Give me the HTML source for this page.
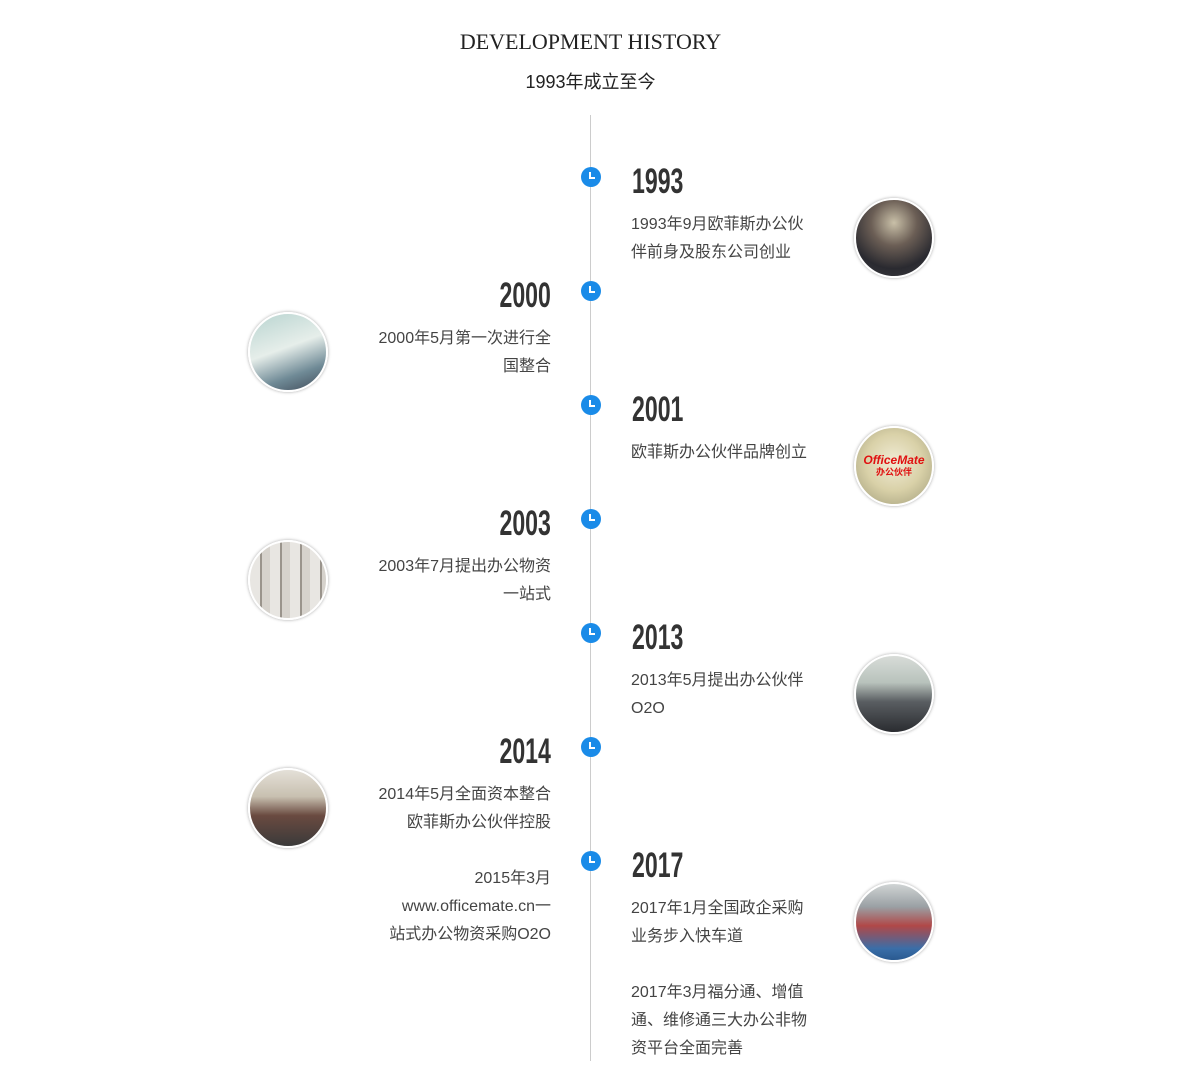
<!DOCTYPE html>
<html><head><meta charset="utf-8"><style>
html,body{margin:0;padding:0;background:#fff;}
body{width:1181px;height:1090px;position:relative;overflow:hidden;font-family:"Liberation Sans","Noto Sans CJK SC",sans-serif;color:#333;}
.abs{position:absolute;}
.title{left:0;width:1181px;top:29px;text-align:center;font-family:"Liberation Serif",serif;font-size:22px;letter-spacing:0;color:#222;}
.sub{left:0;width:1181px;top:68px;text-align:center;font-size:18px;color:#222;}
.line{left:590px;top:115px;width:1px;height:946px;background:#ccc;}
.dot{width:20px;height:20px;border-radius:50%;background:#1a8be8;left:581px;}
.dot:before{content:"";position:absolute;left:8px;top:5px;width:2px;height:7px;background:#fff;}
.dot:after{content:"";position:absolute;left:8px;top:10px;width:6px;height:2px;background:#fff;}
.year{font-family:"Liberation Sans Narrow","Liberation Sans",sans-serif;font-weight:bold;font-size:35px;line-height:36px;color:#333;transform:scaleX(0.66);}
.yr{left:632px;transform-origin:left center;}
.yl{right:630px;transform-origin:right center;text-align:right;}
.txt{font-size:16px;line-height:28px;color:#444;white-space:nowrap;}
.tr{left:631px;}
.tl{right:630px;text-align:right;}
.pic{width:76px;height:76px;border-radius:50%;border:2px solid #fff;box-shadow:0 0 3px rgba(0,0,0,.35);overflow:hidden;}
.pr{left:854px;}
.pl{left:248px;}
</style></head><body>
<div class="abs title">DEVELOPMENT HISTORY</div>
<div class="abs sub">1993年成立至今</div>
<div class="abs line"></div>

<div class="abs dot" style="top:167px"></div>
<div class="abs year yr" style="top:164px">1993</div>
<div class="abs txt tr" style="top:211px">1993年9月欧菲斯办公伙<br>伴前身及股东公司创业</div>
<div class="abs pic pr" style="top:198px;background:radial-gradient(circle at 50% 30%,#c9c0a8 0,#6b5e55 35%,#2a2a30 70%,#3a3a40 100%)"></div>

<div class="abs dot" style="top:281px"></div>
<div class="abs year yl" style="top:278px">2000</div>
<div class="abs txt tl" style="top:325px">2000年5月第一次进行全<br>国整合</div>
<div class="abs pic pl" style="top:312px;background:linear-gradient(160deg,#b8d4d0 0,#e6eeea 45%,#6f8a96 75%,#3f4a58 100%)"></div>

<div class="abs dot" style="top:395px"></div>
<div class="abs year yr" style="top:392px">2001</div>
<div class="abs txt tr" style="top:439px">欧菲斯办公伙伴品牌创立</div>
<div class="abs pic pr" style="top:426px;background:radial-gradient(circle at 50% 45%,#f1ecd6 0,#d9d1a8 50%,#9e9a78 100%)"><div style="position:absolute;left:0;width:76px;top:27px;text-align:center;color:#e01010;font-size:12px;font-style:italic;font-weight:bold;line-height:11px">OfficeMate<br><span style="font-size:9px;font-style:normal">办公伙伴</span></div></div>

<div class="abs dot" style="top:509px"></div>
<div class="abs year yl" style="top:506px">2003</div>
<div class="abs txt tl" style="top:553px">2003年7月提出办公物资<br>一站式</div>
<div class="abs pic pl" style="top:540px;background:repeating-linear-gradient(90deg,#e8e6e2 0 10px,#9a948c 10px 12px,#d6d2cc 12px 20px)"></div>

<div class="abs dot" style="top:623px"></div>
<div class="abs year yr" style="top:620px">2013</div>
<div class="abs txt tr" style="top:667px">2013年5月提出办公伙伴<br>O2O</div>
<div class="abs pic pr" style="top:654px;background:linear-gradient(180deg,#d8dcd8 0,#b8c2bc 35%,#5a5e62 60%,#2a2c30 100%)"></div>

<div class="abs dot" style="top:737px"></div>
<div class="abs year yl" style="top:734px">2014</div>
<div class="abs txt tl" style="top:781px">2014年5月全面资本整合<br>欧菲斯办公伙伴控股</div>
<div class="abs txt tl" style="top:865px">2015年3月<br>www.officemate.cn一<br>站式办公物资采购O2O</div>
<div class="abs pic pl" style="top:768px;background:linear-gradient(180deg,#e4e0d8 0,#c8c0b0 35%,#6a4a40 60%,#3a3a3a 100%)"></div>

<div class="abs dot" style="top:851px"></div>
<div class="abs year yr" style="top:848px">2017</div>
<div class="abs txt tr" style="top:895px">2017年1月全国政企采购<br>业务步入快车道</div>
<div class="abs txt tr" style="top:979px">2017年3月福分通、增值<br>通、维修通三大办公非物<br>资平台全面完善</div>
<div class="abs pic pr" style="top:882px;background:linear-gradient(180deg,#d0d4d4 0,#9aa0a4 30%,#b04848 55%,#3a6ea8 85%,#2a5a90 100%)"></div>
</body></html>
